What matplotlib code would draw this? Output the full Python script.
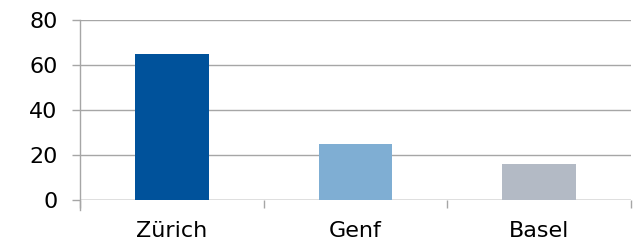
import matplotlib
matplotlib.use("Agg")
import matplotlib.pyplot as plt
from matplotlib.ticker import FixedLocator

plt.rcParams['font.family'] = ['DejaVu Sans']

# data
cities = ['Zürich', 'Genf', 'Basel']
values = [65, 25, 16]
bar_colors = ['#00529B', '#7FAED3', '#B3BAC5']
y_ticks = [0, 20, 40, 60, 80]

grid_color = '#A6A6A6'

fig = plt.figure(figsize=(6.38, 2.44), dpi=100)
ax = fig.add_axes([80 / 638, 44 / 244, 551 / 638, 180 / 244])

x = range(len(cities))
ax.bar(x, values, width=0.40, color=bar_colors, zorder=3)

ax.set_xlim(-0.5, len(cities) - 0.5)
ax.set_ylim(0, 80)
ax.set_yticks(y_ticks)
ax.yaxis.grid(True, color=grid_color, linewidth=1.0, zorder=0)

ax.set_xticks(list(x))
ax.set_xticklabels(cities)
ax.xaxis.set_minor_locator(FixedLocator([i - 0.5 for i in range(len(cities) + 1)]))

for side in ['top', 'right', 'bottom']:
    ax.spines[side].set_visible(False)
ax.spines['left'].set_color(grid_color)
ax.spines['left'].set_linewidth(1.0)
ax.spines['left'].set_bounds(-4.5, 80)
ax.axhline(0, color=grid_color, linewidth=1.0, zorder=2)

ax.tick_params(axis='y', length=6, color=grid_color, width=1.0, pad=10,
               labelsize=16, labelcolor='black')
ax.tick_params(axis='x', which='major', length=0, pad=15,
               labelsize=16, labelcolor='black')
ax.tick_params(axis='x', which='minor', length=6, color=grid_color, width=1.0)

fig.savefig('out.png', dpi=100)
